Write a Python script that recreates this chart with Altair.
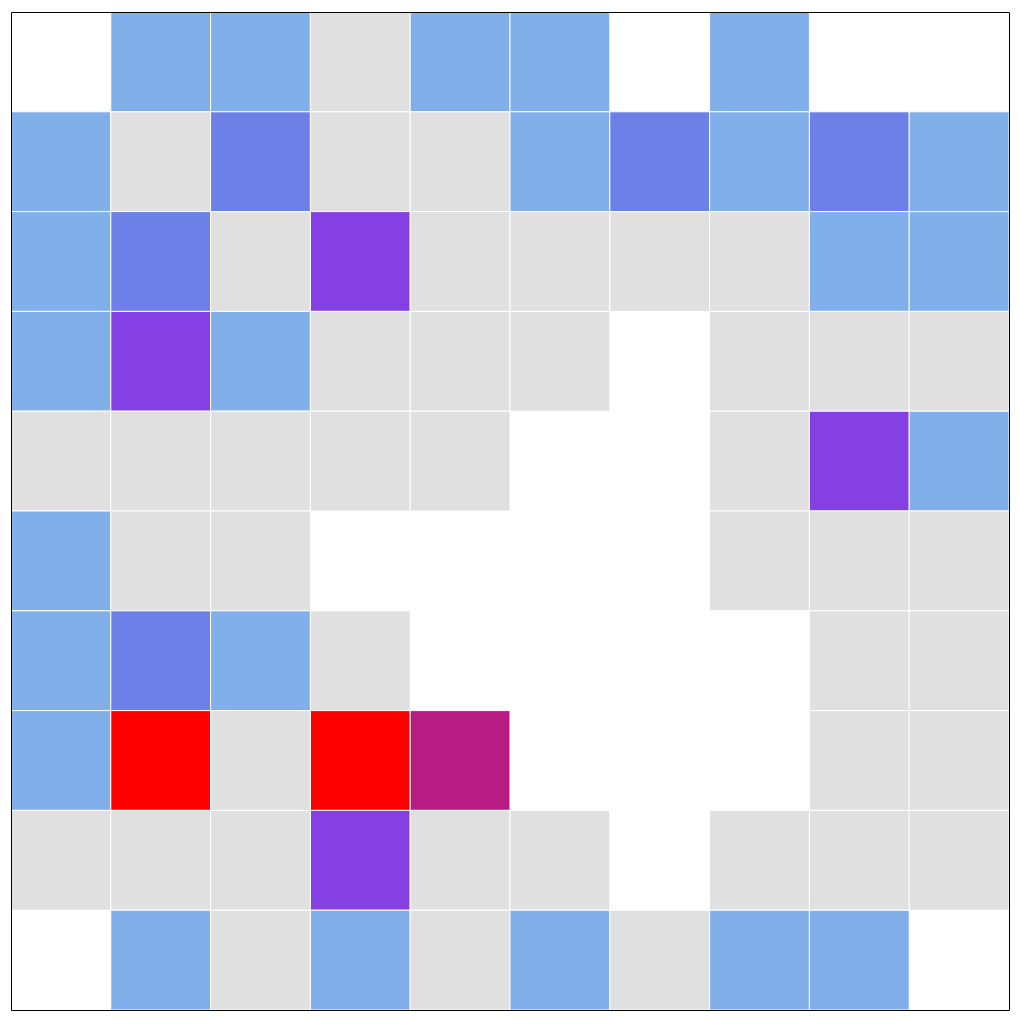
import altair as alt
import pandas as pd

# Category codes per row (top to bottom); "" = empty cell
rows = [
    ["", "b", "b", "g", "b", "b", "", "b", "", ""],
    ["b", "g", "m", "g", "g", "b", "m", "b", "m", "b"],
    ["b", "m", "g", "p", "g", "g", "g", "g", "b", "b"],
    ["b", "p", "b", "g", "g", "g", "", "g", "g", "g"],
    ["g", "g", "g", "g", "g", "", "", "g", "p", "b"],
    ["b", "g", "g", "", "", "", "", "g", "g", "g"],
    ["b", "m", "b", "g", "", "", "", "", "g", "g"],
    ["b", "r", "g", "r", "k", "", "", "", "g", "g"],
    ["g", "g", "g", "p", "g", "g", "", "g", "g", "g"],
    ["", "b", "g", "b", "g", "b", "g", "b", "b", ""],
]
categories = ["g", "b", "m", "p", "k", "r"]
colors = ["#e0e0e0", "#81afe9", "#6c80e8", "#8540e3", "#b81c82", "#ff0000"]

records = []
for r, row in enumerate(rows):
    for c, v in enumerate(row):
        if v:
            records.append({"col": c, "row": r, "cat": v})
df = pd.DataFrame(records)

cells = alt.Chart(df).mark_rect(stroke="white", strokeWidth=1).encode(
    x=alt.X("col:O", scale=alt.Scale(domain=list(range(10)), paddingInner=0, paddingOuter=0), axis=None),
    y=alt.Y("row:O", scale=alt.Scale(domain=list(range(10)), paddingInner=0, paddingOuter=0), axis=None),
    color=alt.Color("cat:N", scale=alt.Scale(domain=categories, range=colors), legend=None),
)

frame = alt.Chart(pd.DataFrame({"a": [0]})).mark_rect(
    filled=False, stroke="black", strokeWidth=1
).encode(
    x=alt.value(0.5), x2=alt.value(1000.5), y=alt.value(0.5), y2=alt.value(1000.5)
)

chart = alt.layer(cells, frame).properties(
    width=1000, height=1000, padding=2
).configure_view(stroke=None)

chart.save("out.html", embed_options={"renderer": "svg", "actions": False})
